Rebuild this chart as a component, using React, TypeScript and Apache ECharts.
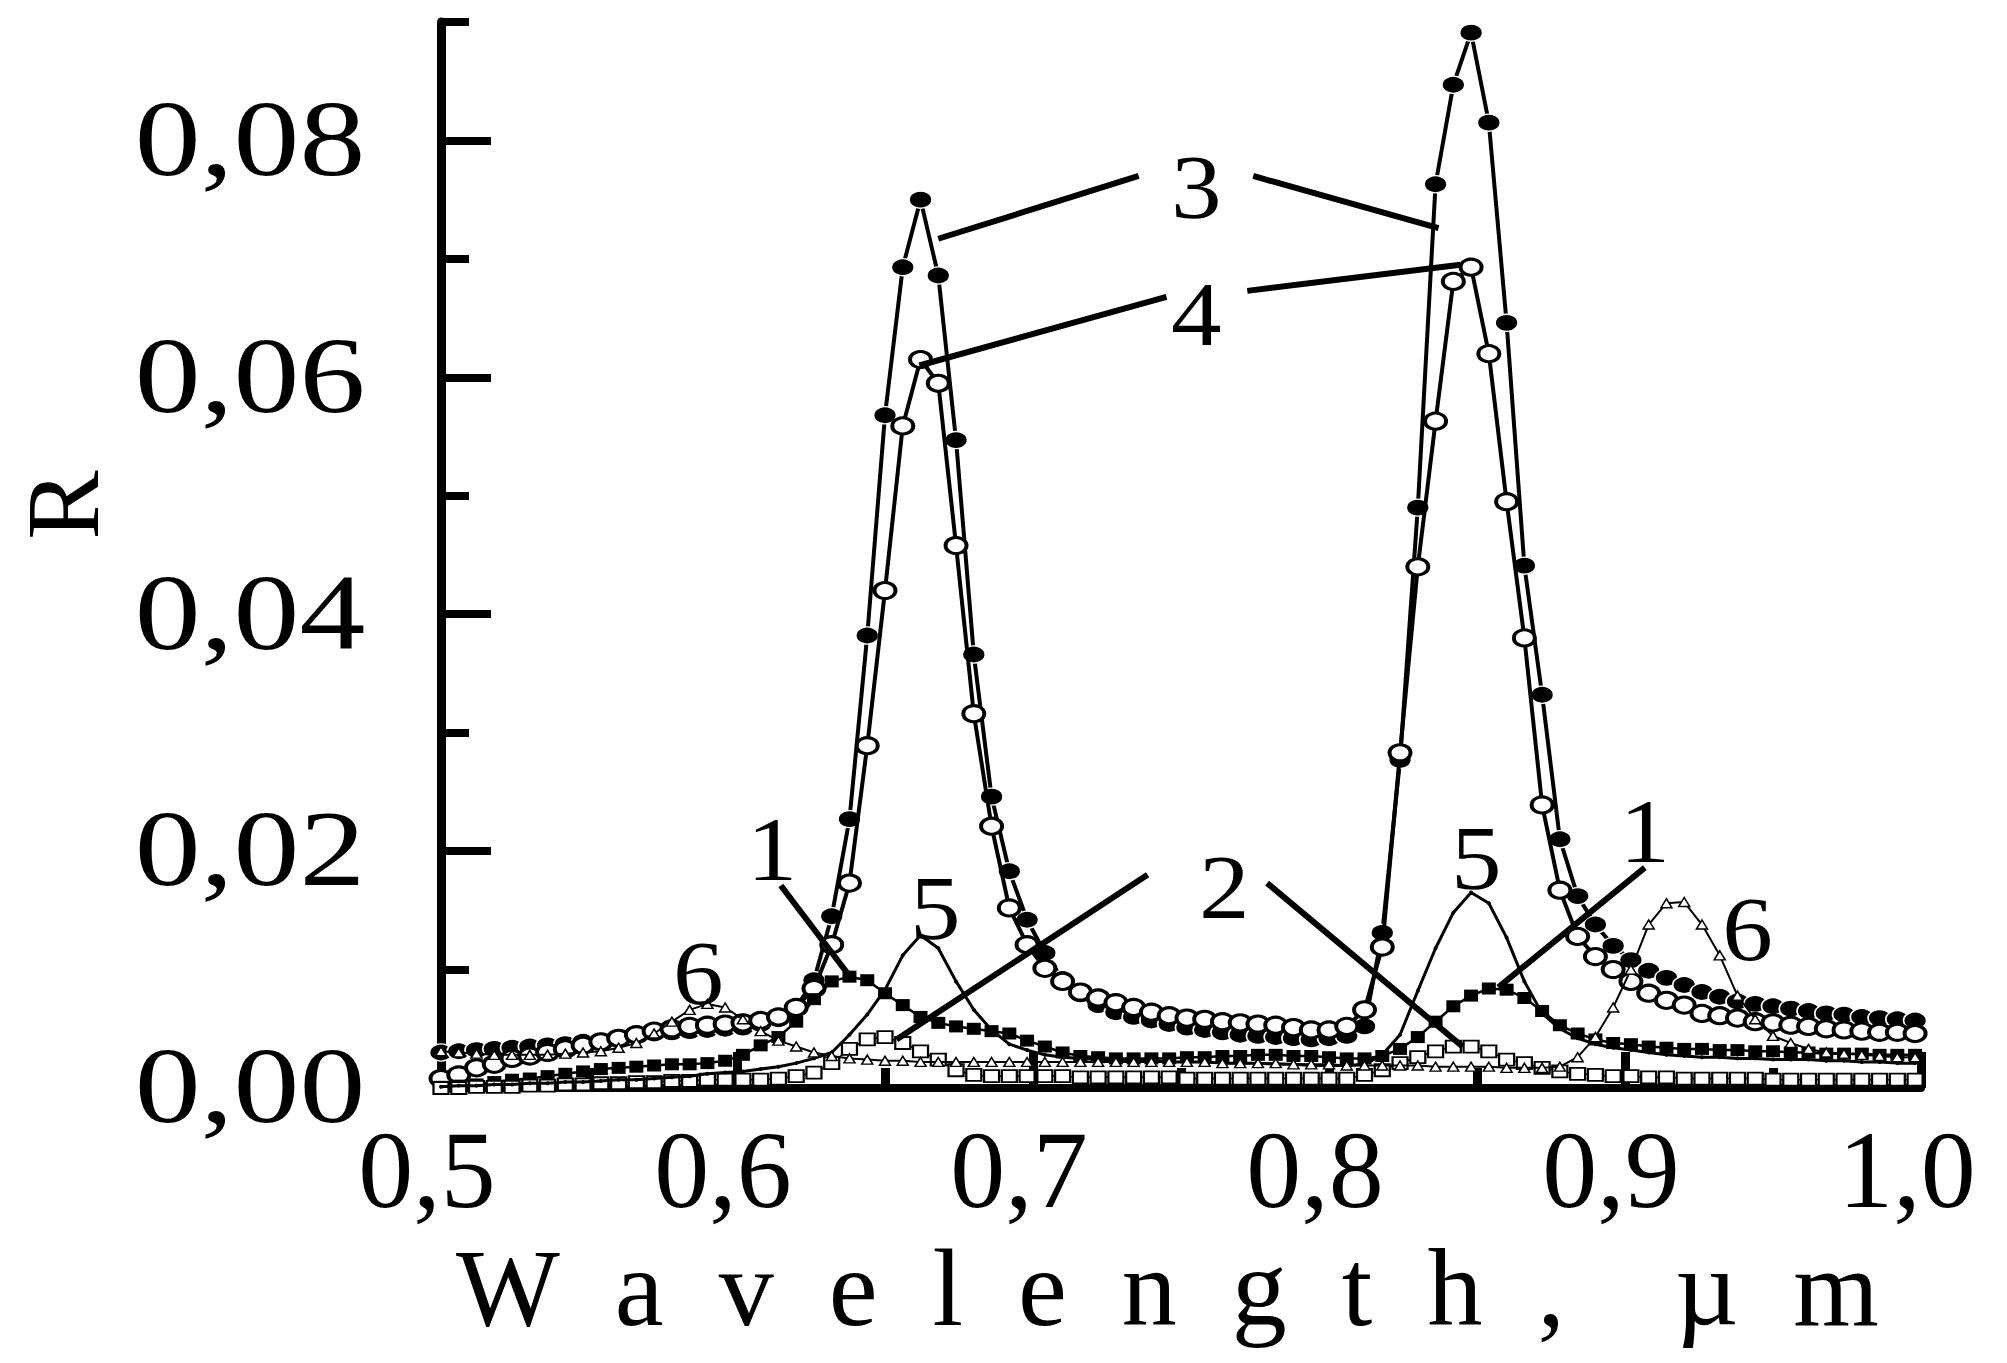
import React, { useEffect, useRef } from "react";
import * as echarts from "echarts";

// ---------- data ----------
const wavelength = [
  0.500, 0.506, 0.512, 0.518, 0.524, 0.530, 0.536, 0.542, 0.548, 0.554,
  0.560, 0.566, 0.572, 0.578, 0.584, 0.590, 0.596, 0.602, 0.608, 0.614,
  0.620, 0.626, 0.632, 0.638, 0.644, 0.650, 0.656, 0.662, 0.668, 0.674,
  0.680, 0.686, 0.692, 0.698, 0.704, 0.710, 0.716, 0.722, 0.728, 0.734,
  0.740, 0.746, 0.752, 0.758, 0.764, 0.770, 0.776, 0.782, 0.788, 0.794,
  0.800, 0.806, 0.812, 0.818, 0.824, 0.830, 0.836, 0.842, 0.848, 0.854,
  0.860, 0.866, 0.872, 0.878, 0.884, 0.890, 0.896, 0.902, 0.908, 0.914,
  0.920, 0.926, 0.932, 0.938, 0.944, 0.950, 0.956, 0.962, 0.968, 0.974,
  0.980, 0.986, 0.992, 0.998,
];

// curve 3: filled circles
const curve3 = [
  0.0030, 0.0031, 0.0032, 0.0033, 0.0034, 0.0035, 0.0036, 0.0037, 0.0039, 0.0040,
  0.0042, 0.0044, 0.0046, 0.0047, 0.0048, 0.0049, 0.0050, 0.0051, 0.0054, 0.0058,
  0.0068, 0.0091, 0.0145, 0.0227, 0.0382, 0.0568, 0.0693, 0.0750, 0.0686, 0.0547,
  0.0366, 0.0246, 0.0183, 0.0142, 0.0114, 0.0092, 0.0079, 0.0070, 0.0064, 0.0060,
  0.0057, 0.0054, 0.0051, 0.0049, 0.0047, 0.0045, 0.0044, 0.0043, 0.0042, 0.0041,
  0.0042, 0.0044, 0.0052, 0.0131, 0.0277, 0.0490, 0.0763, 0.0847, 0.0891, 0.0815,
  0.0646, 0.0441, 0.0332, 0.0210, 0.0162, 0.0138, 0.0120, 0.0108, 0.0099, 0.0093,
  0.0087, 0.0081, 0.0077, 0.0073, 0.0071, 0.0069, 0.0067, 0.0065, 0.0063, 0.0062,
  0.0060, 0.0059, 0.0058, 0.0057,
];

// curve 4: open circles
const curve4 = [
  0.0008, 0.0011, 0.0017, 0.0020, 0.0025, 0.0027, 0.0030, 0.0033, 0.0036, 0.0039,
  0.0042, 0.0045, 0.0048, 0.0050, 0.0052, 0.0053, 0.0054, 0.0055, 0.0057, 0.0060,
  0.0068, 0.0084, 0.0121, 0.0173, 0.0289, 0.0420, 0.0559, 0.0615, 0.0595, 0.0458,
  0.0316, 0.0221, 0.0152, 0.0121, 0.0101, 0.0090, 0.0081, 0.0076, 0.0072, 0.0068,
  0.0064, 0.0061, 0.0059, 0.0058, 0.0056, 0.0055, 0.0054, 0.0053, 0.0051, 0.0049,
  0.0049, 0.0052, 0.0066, 0.0119, 0.0283, 0.0440, 0.0563, 0.0681, 0.0693, 0.0620,
  0.0495, 0.0380, 0.0239, 0.0167, 0.0128, 0.0111, 0.0100, 0.0090, 0.0080, 0.0074,
  0.0070, 0.0063, 0.0061, 0.0059, 0.0056, 0.0055, 0.0053, 0.0052, 0.0050, 0.0049,
  0.0048, 0.0047, 0.0047, 0.0046,
];

// curve 1: filled squares
const curve1 = [
  0.0001, 0.0002, 0.0003, 0.0005, 0.0007, 0.0008, 0.0010, 0.0012, 0.0014, 0.0016,
  0.0017, 0.0018, 0.0019, 0.0020, 0.0020, 0.0021, 0.0023, 0.0028, 0.0036, 0.0043,
  0.0056, 0.0075, 0.0090, 0.0094, 0.0091, 0.0080, 0.0070, 0.0060, 0.0055, 0.0052,
  0.0050, 0.0048, 0.0046, 0.0040, 0.0035, 0.0030, 0.0027, 0.0026, 0.0025, 0.0025,
  0.0025, 0.0025, 0.0026, 0.0026, 0.0027, 0.0027, 0.0028, 0.0028, 0.0027, 0.0027,
  0.0026, 0.0025, 0.0025, 0.0027, 0.0033, 0.0043, 0.0056, 0.0069, 0.0078, 0.0084,
  0.0083, 0.0076, 0.0065, 0.0053, 0.0046, 0.0041, 0.0038, 0.0037, 0.0035, 0.0034,
  0.0033, 0.0033, 0.0032, 0.0032, 0.0031, 0.0031, 0.0030, 0.0030, 0.0029, 0.0029,
  0.0029, 0.0028, 0.0028, 0.0028,
];

// curve 2: open squares
const curve2 = [
  0.0000, 0.0000, 0.0001, 0.0001, 0.0001, 0.0002, 0.0002, 0.0003, 0.0003, 0.0004,
  0.0004, 0.0005, 0.0005, 0.0006, 0.0006, 0.0007, 0.0007, 0.0007, 0.0007, 0.0008,
  0.0010, 0.0013, 0.0021, 0.0033, 0.0041, 0.0043, 0.0038, 0.0031, 0.0024, 0.0015,
  0.0011, 0.0010, 0.0010, 0.0010, 0.0010, 0.0010, 0.0009, 0.0009, 0.0009, 0.0009,
  0.0009, 0.0009, 0.0008, 0.0008, 0.0008, 0.0008, 0.0008, 0.0008, 0.0008, 0.0008,
  0.0008, 0.0008, 0.0011, 0.0015, 0.0021, 0.0026, 0.0031, 0.0035, 0.0035, 0.0031,
  0.0024, 0.0021, 0.0017, 0.0014, 0.0012, 0.0011, 0.0010, 0.0010, 0.0009, 0.0009,
  0.0008, 0.0008, 0.0008, 0.0008, 0.0008, 0.0007, 0.0007, 0.0007, 0.0007, 0.0007,
  0.0007, 0.0007, 0.0007, 0.0007,
];

// curve 5: thin line, tiny dots
const curve5 = [
  0.0001, 0.0002, 0.0002, 0.0003, 0.0003, 0.0004, 0.0004, 0.0005, 0.0005, 0.0006,
  0.0007, 0.0007, 0.0008, 0.0009, 0.0010, 0.0012, 0.0013, 0.0014, 0.0016, 0.0018,
  0.0021, 0.0025, 0.0030, 0.0045, 0.0062, 0.0083, 0.0112, 0.0129, 0.0118, 0.0090,
  0.0066, 0.0049, 0.0037, 0.0032, 0.0028, 0.0026, 0.0025, 0.0024, 0.0024, 0.0023,
  0.0023, 0.0022, 0.0022, 0.0022, 0.0021, 0.0021, 0.0021, 0.0020, 0.0020, 0.0019,
  0.0019, 0.0019, 0.0020, 0.0028, 0.0045, 0.0082, 0.0118, 0.0148, 0.0165, 0.0156,
  0.0127, 0.0090, 0.0063, 0.0050, 0.0042, 0.0037, 0.0034, 0.0032, 0.0030, 0.0028,
  0.0027, 0.0026, 0.0026, 0.0025, 0.0025, 0.0024, 0.0024, 0.0024, 0.0023, 0.0023,
  0.0022, 0.0022, 0.0021, 0.0021,
];

// curve 6: small open triangles
const curve6 = [
  0.0031, 0.0030, 0.0029, 0.0028, 0.0028, 0.0028, 0.0028, 0.0029, 0.0030, 0.0031,
  0.0034, 0.0038, 0.0046, 0.0056, 0.0066, 0.0071, 0.0068, 0.0058, 0.0048, 0.0040,
  0.0035, 0.0030, 0.0027, 0.0025, 0.0024, 0.0023, 0.0023, 0.0022, 0.0022, 0.0022,
  0.0022, 0.0022, 0.0022, 0.0022, 0.0022, 0.0022, 0.0022, 0.0022, 0.0022, 0.0022,
  0.0022, 0.0022, 0.0022, 0.0022, 0.0021, 0.0021, 0.0021, 0.0021, 0.0020, 0.0020,
  0.0020, 0.0019, 0.0019, 0.0019, 0.0019, 0.0019, 0.0018, 0.0018, 0.0018, 0.0018,
  0.0017, 0.0017, 0.0017, 0.0018, 0.0026, 0.0043, 0.0068, 0.0100, 0.0138, 0.0156,
  0.0157, 0.0138, 0.0112, 0.0078, 0.0058, 0.0044, 0.0038, 0.0033, 0.0030, 0.0029,
  0.0028, 0.0027, 0.0026, 0.0026,
];

const yTickValues = [0, 0.02, 0.04, 0.06, 0.08];
const yTickLabels = ["0,00", "0,02", "0,04", "0,06", "0,08"];
const yMinorValues = [0.01, 0.03, 0.05, 0.07, 0.09];
const xTickValues = [0.5, 0.6, 0.7, 0.8, 0.9, 1.0];
const xTickLabels = ["0,5", "0,6", "0,7", "0,8", "0,9", "1,0"];
const xMajorTickValues = [0.6, 0.7, 0.8, 0.9, 1.0];
const xMinorValues = [0.55, 0.65, 0.75, 0.85, 0.95];

const xTitle = "W\u2002a\u2002v\u2002e\u2002l\u2002e\u2002n\u2002g\u2002t\u2002h\u2002,\u2002\u2002µ\u2002m";
const yTitle = "R";

// annotation labels and leader lines in data coordinates
const curveLabelText = ["3", "4", "1", "5", "6", "2", "5", "1", "6"];
const curveLabelX = [0.7552, 0.7552, 0.6118, 0.6670, 0.5869, 0.7646, 0.8498, 0.9067, 0.9414];
const curveLabelY = [0.0761, 0.0653, 0.0202, 0.0152, 0.0097, 0.0170, 0.0194, 0.0217, 0.0134];

const leaderFrom = [
  [0.7357, 0.0770], [0.7744, 0.0770], [0.7451, 0.0668], [0.7724, 0.0673],
  [0.6148, 0.0171], [0.7387, 0.0180], [0.7791, 0.0173], [0.9067, 0.0186],
];
const leaderTo = [
  [0.6680, 0.0717], [0.8370, 0.0726], [0.6616, 0.0610], [0.8444, 0.0695],
  [0.6391, 0.0091], [0.6539, 0.0041], [0.8451, 0.0035], [0.8572, 0.0085],
];

const FONT = "'Liberation Serif', 'Times New Roman', serif";

function pairs(vals: number[]) {
  return wavelength.map((w, i) => [w, vals[i]]);
}

export default function App() {
  const ref = useRef<HTMLDivElement>(null);

  useEffect(() => {
    if (!ref.current) return;
    const chart = echarts.init(ref.current, null, { renderer: "svg" });

    const baseSeries = {
      type: "line",
      showSymbol: true,
      clip: false,
      silent: true,
      animation: false,
      emphasis: { disabled: true },
    };

    const option: any = {
      animation: false,
      backgroundColor: "#ffffff",
      grid: { left: 441, right: 86, top: 22, bottom: 275, containLabel: false },
      xAxis: [
        {
          type: "value",
          min: 0.5,
          max: 1.0,
          interval: 0.1,
          position: "bottom",
          axisLine: { show: true, onZero: false, lineStyle: { color: "#000", width: 8 } },
          axisTick: {
            show: true,
            inside: true,
            length: 36,
            lineStyle: { color: "#000", width: 9 },
            customValues: xMajorTickValues,
          },
          axisLabel: { show: false },
          splitLine: { show: false },
        },
        {
          type: "value",
          min: 0.5,
          max: 1.0,
          interval: 0.05,
          position: "bottom",
          axisLine: { show: false, onZero: false },
          axisTick: {
            show: true,
            inside: true,
            length: 20,
            lineStyle: { color: "#000", width: 9 },
            customValues: xMinorValues,
          },
          axisLabel: { show: false },
          splitLine: { show: false },
        },
      ],
      yAxis: [
        {
          type: "value",
          min: 0,
          max: 0.09,
          interval: 0.02,
          position: "left",
          axisLine: { show: true, onZero: false, lineStyle: { color: "#000", width: 9 } },
          axisTick: {
            show: true,
            inside: true,
            length: 50,
            lineStyle: { color: "#000", width: 8 },
            customValues: yTickValues,
          },
          axisLabel: { show: false },
          splitLine: { show: false },
        },
        {
          type: "value",
          min: 0,
          max: 0.09,
          interval: 0.01,
          position: "left",
          axisLine: { show: false, onZero: false },
          axisTick: {
            show: true,
            inside: true,
            length: 28,
            lineStyle: { color: "#000", width: 8 },
            customValues: yMinorValues,
          },
          axisLabel: { show: false },
          splitLine: { show: false },
        },
      ],
      series: [
        {
          ...baseSeries,
          name: "3",
          data: pairs(curve3),
          symbol: "circle",
          symbolSize: [23, 17],
          lineStyle: { color: "#000", width: 4 },
          itemStyle: { color: "#000", borderColor: "#fff", borderWidth: 1.5 },
          z: 3,
        },
        {
          ...baseSeries,
          name: "4",
          data: pairs(curve4),
          symbol: "circle",
          symbolSize: [21, 16],
          lineStyle: { color: "#000", width: 4 },
          itemStyle: { color: "#fff", borderColor: "#000", borderWidth: 3.5 },
          z: 4,
        },
        {
          ...baseSeries,
          name: "1",
          data: pairs(curve1),
          symbol: "rect",
          symbolSize: [14, 12],
          lineStyle: { color: "#000", width: 2.5 },
          itemStyle: { color: "#000", borderWidth: 0 },
          z: 5,
        },
        {
          ...baseSeries,
          name: "2",
          data: pairs(curve2),
          symbol: "rect",
          symbolSize: [15, 12],
          lineStyle: { color: "#000", width: 1.5 },
          itemStyle: { color: "#fff", borderColor: "#000", borderWidth: 2 },
          z: 5,
        },
        {
          ...baseSeries,
          name: "5",
          data: pairs(curve5),
          symbol: "circle",
          symbolSize: 4,
          lineStyle: { color: "#000", width: 3 },
          itemStyle: { color: "#000", borderWidth: 0 },
          z: 6,
        },
        {
          ...baseSeries,
          name: "6",
          data: pairs(curve6),
          symbol: "triangle",
          symbolSize: [11, 9],
          lineStyle: { color: "#000", width: 2 },
          itemStyle: { color: "#fff", borderColor: "#000", borderWidth: 1.5 },
          z: 7,
        },
      ],
    };

    chart.setOption(option);

    const toPx = (x: number, y: number) =>
      chart.convertToPixel({ xAxisIndex: 0, yAxisIndex: 0 }, [x, y]) as number[];

    const elements: any[] = [];

    const textEl = (
      text: string,
      x: number,
      y: number,
      size: number,
      scaleX: number,
      align: string,
      rotation = 0
    ) => ({
      type: "text",
      x,
      y,
      scaleX,
      rotation,
      z: 100,
      silent: true,
      style: {
        text,
        font: `${size}px ${FONT}`,
        fill: "#000",
        align,
        verticalAlign: "middle",
        textAlign: align,
        textVerticalAlign: "middle",
      },
    });

    // y tick labels
    yTickValues.forEach((v, i) => {
      const p = toPx(0.5, v);
      elements.push(textEl(yTickLabels[i], p[0] - 191, p[1] - 2, 108, 1.22, "center"));
    });

    // x tick labels
    xTickValues.forEach((v, i) => {
      const p = toPx(v, 0);
      elements.push(textEl(xTickLabels[i], p[0] - 14, p[1] + 82, 110, 1.0, "center"));
    });

    // axis titles
    const origin = toPx(0.5, 0);
    elements.push(textEl(xTitle, origin[0] + 15, origin[1] + 200, 110, 1.0, "left"));
    elements.push(textEl(yTitle, 62, 505, 104, 1.0, "center", Math.PI / 2));

    // leader lines
    leaderFrom.forEach((f, i) => {
      const a = toPx(f[0], f[1]);
      const b = toPx(leaderTo[i][0], leaderTo[i][1]);
      elements.push({
        type: "line",
        z: 90,
        silent: true,
        shape: { x1: a[0], y1: a[1], x2: b[0], y2: b[1] },
        style: { stroke: "#000", lineWidth: 6 },
      });
    });

    // curve number labels
    curveLabelText.forEach((t, i) => {
      const p = toPx(curveLabelX[i], curveLabelY[i]);
      elements.push(textEl(t, p[0], p[1], 92, 1.1, "center"));
    });

    chart.setOption({ graphic: { elements } });

    return () => {
      chart.dispose();
    };
  }, []);

  return (
    <div
      ref={ref}
      style={{
        position: "absolute",
        left: 0,
        top: 0,
        width: 2007,
        height: 1363,
        background: "#fff",
      }}
    />
  );
}
